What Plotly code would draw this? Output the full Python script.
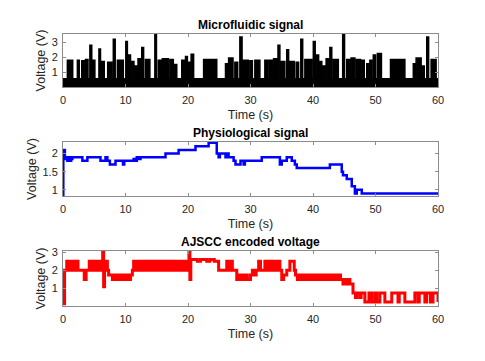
import plotly.graph_objects as go

# microfluidic signal: baseline level plus pulses (start s, end s, peak V)
mf_base = 0.55
mf_start = [0.7, 2.3, 3.0, 3.6, 4.3, 4.7, 5.75, 6.05, 7.15, 7.6, 8.05, 8.7, 10.05, 10.45, 10.9,
            11.55, 12.0, 12.6, 13.2, 14.7, 15.25, 15.9, 17.1, 17.8, 19.0, 19.6, 20.05, 20.5,
            22.5, 23.2, 26.0, 26.5, 27.5, 28.3, 28.85, 29.9,
            30.7, 32.3, 32.95, 33.7, 34.4, 34.9, 35.8, 36.2, 37.3, 38.05, 38.7, 40.05, 40.5,
            41.0, 41.6, 42.1, 42.7, 43.25, 44.75, 45.4, 46.1, 46.95, 47.7, 48.6, 49.1, 49.65,
            50.3, 52.4, 53.55, 56.05, 56.5, 57.5, 58.2, 58.9]
mf_end = [1.55, 2.6, 3.5, 4.0, 4.6, 5.1, 6.0, 6.6, 7.45, 7.8, 8.35, 9.65, 10.3, 10.8, 11.35,
          11.9, 12.4, 12.9, 13.9, 14.95, 15.7, 16.85, 17.65, 18.2, 19.4, 19.9, 20.35, 20.9,
          23.0, 24.6, 26.4, 27.2, 27.95, 28.65, 29.65, 30.3,
          31.5, 32.7, 33.6, 34.3, 34.7, 35.5, 36.1, 37.0, 37.7, 38.35, 39.8, 40.35, 40.9,
          41.4, 41.95, 42.5, 43.0, 44.05, 45.05, 45.9, 46.7, 47.6, 48.2, 48.95, 49.4, 50.0,
          50.95, 53.4, 54.7, 56.4, 57.3, 57.8, 58.5, 59.7]
mf_peak = [1.8, 1.8, 1.75, 1.85, 2.8, 1.8, 2.55, 1.7, 1.65, 1.65, 3.2, 1.8, 3.05, 2.15, 1.7,
           1.4, 1.9, 2.65, 1.85, 3.55, 1.8, 1.9, 1.85, 1.5, 1.8, 2.05, 1.65, 2.2,
           1.85, 1.85, 1.55, 1.95, 1.65, 3.35, 1.8, 1.75,
           1.8, 1.8, 1.8, 1.9, 2.8, 1.7, 2.5, 1.7, 1.65, 3.2, 1.85, 3.05, 2.15,
           1.7, 1.4, 1.9, 2.65, 1.85, 3.55, 1.85, 1.95, 1.85, 1.8, 1.55, 1.8, 2.15,
           2.25, 1.85, 1.85, 1.55, 1.95, 1.4, 3.35, 1.85]

# physiological signal (step changes)
phys_t = [0, 0.05, 0.3, 0.5, 0.7, 0.9, 1.1, 1.3, 1.5, 3.1, 3.9, 6.0, 6.8, 7.1, 7.5, 8.4, 9.6,
          9.8, 11.3, 11.6, 11.8, 12.1, 12.4, 16.4, 18.5, 21.2, 23.3, 24.6, 24.9, 25.1, 26.0,
          26.3, 26.5, 27.3, 27.6, 28.4, 28.9, 29.1, 31.8, 34.7, 35.0, 35.8, 36.6, 37.1, 37.4,
          42.7, 44.6, 44.8, 45.4, 46.2, 46.7, 47.0, 47.8, 60]
phys_v = [0.85, 2.1, 1.85, 1.9, 1.8, 1.9, 1.8, 1.85, 1.9, 1.8, 1.9, 1.8, 1.9, 1.8, 1.7, 1.8, 1.7,
          1.8, 1.85, 1.8, 1.9, 1.85, 1.9, 2.0, 2.1, 2.2, 2.3, 2.0, 1.9, 2.0, 1.9,
          2.0, 1.9, 1.8, 1.7, 1.8, 1.7, 1.8, 1.9, 1.7, 1.8, 1.9, 1.8, 1.7, 1.6,
          1.7, 1.5, 1.4, 1.3, 1.1, 0.9, 1.0, 0.9, 0.9]

# AJSCC encoded voltage (step changes)
ajscc_t = [0.0, 0.05, 0.25, 0.6, 1.0, 1.3, 1.6, 2.0, 2.4, 3.4, 3.7, 4.2, 4.5, 4.7, 5.0, 5.2, 5.5,
           5.8, 6.1, 6.35, 6.5, 6.65, 6.9, 7.1, 7.3, 7.9, 8.2, 8.4, 8.7, 8.9, 9.2, 9.4, 9.7,
           9.9, 10.2, 10.4, 10.8, 11.1, 11.3, 11.7, 12.0, 12.3, 12.6, 12.9, 13.2, 13.6, 14.0,
           14.3, 14.7, 15.0, 15.4, 15.8, 16.2, 16.6, 17.0, 17.3, 17.7, 18.0, 18.4, 18.7, 19.1,
           19.4, 19.8, 20.0, 20.15, 20.3, 20.45, 21.5, 22.0, 23.0, 23.5, 24.2, 24.9, 26.2,
           26.5, 26.8, 27.1, 27.8, 28.1, 28.3, 28.7, 28.9, 29.3, 29.5, 30.0, 30.3, 30.6, 30.9,
           31.3, 31.6, 32.3, 32.6, 32.9, 33.3, 33.6, 34.0, 34.4, 34.7, 35.0, 35.3, 35.8, 36.3,
           37.0, 37.2, 37.5, 37.8, 38.1, 38.5, 38.8, 39.2, 39.5, 39.9, 40.2, 40.6, 40.9, 41.3,
           41.6, 42.0, 42.3, 42.7, 43.0, 43.4, 43.7, 44.1, 44.4, 44.8, 45.1, 45.4, 45.7, 45.9,
           46.4, 46.8, 47.0, 47.5, 47.7, 48.3, 48.95, 49.4, 49.9, 50.2, 50.7, 51.5, 52.6, 53.6,
           53.8, 54.7, 56.3, 56.8, 57.0, 57.9, 58.2, 58.8, 59.2, 60.0]
ajscc_v = [1.75, 0.15, 2.0, 2.5, 2.0, 2.5, 2.0, 2.5, 2.0, 1.5, 2.0, 2.5, 2.0, 2.5, 2.0, 2.5, 2.0,
           2.5, 2.0, 3.1, 1.1, 2.0, 2.5, 2.0, 1.75, 1.5, 1.75, 1.5, 1.75, 1.5, 1.75, 1.5, 1.75,
           1.5, 1.75, 1.5, 1.75, 2.0, 2.5, 2.0, 2.5, 2.0, 2.5, 2.0, 2.5, 2.0, 2.5,
           2.0, 2.5, 2.0, 2.5, 2.0, 2.5, 2.0, 2.5, 2.0, 2.5, 2.0, 2.5, 2.0, 2.5,
           2.0, 2.5, 2.0, 3.0, 1.5, 2.6, 2.5, 2.6, 2.5, 2.6, 2.5, 2.0, 2.5,
           2.0, 2.5, 2.0, 1.5, 1.75, 1.5, 1.75, 1.5, 1.75, 1.5, 1.75, 2.0, 1.75, 2.0,
           2.5, 2.0, 2.5, 2.0, 2.5, 2.0, 2.5, 2.0, 2.5, 2.0, 1.5, 1.75, 2.0, 2.5,
           2.0, 1.75, 1.5, 1.75, 1.5, 1.75, 1.5, 1.75, 1.5, 1.75, 1.5, 1.75, 1.5, 1.75,
           1.5, 1.75, 1.5, 1.75, 1.5, 1.75, 1.5, 1.75, 1.5, 1.25, 1.5, 1.25, 1.5, 1.25,
           0.75, 0.5, 0.75, 0.5, 0.75, 0.25, 0.75, 0.25, 0.75, 0.25, 0.75, 0.25, 0.75, 0.25,
           0.75, 0.25, 0.75, 0.25, 0.75, 0.25, 0.75, 0.25, 0.75, 0.25]

x_ticks = [0, 10, 20, 30, 40, 50, 60]
titles = ["Microfluidic signal", "Physiological signal", "AJSCC encoded voltage"]

# build the pulse train as a step line
mf_t = [0]
mf_v = [mf_base]
for s, e, h in zip(mf_start, mf_end, mf_peak):
    mf_t += [s, e]
    mf_v += [h, mf_base]
mf_t.append(60)
mf_v.append(mf_base)

W, H = 485, 361
OFF = 8  # page body margin shifts the plot by 8px
FONT = "Liberation Sans, Arial, sans-serif"
TXT = "#262626"

fig = go.Figure()
fig.add_trace(go.Scatter(x=mf_t, y=mf_v, mode="lines", line=dict(color="black", width=1.5, shape="hv"),
                         fill="tozeroy", fillcolor="black", xaxis="x", yaxis="y"))
fig.add_trace(go.Scatter(x=phys_t, y=phys_v, mode="lines", line=dict(color="#0000ff", width=2.5, shape="hv"),
                         xaxis="x2", yaxis="y2"))
fig.add_trace(go.Scatter(x=ajscc_t, y=ajscc_v, mode="lines", line=dict(color="#ff0000", width=3, shape="hv"),
                         xaxis="x3", yaxis="y3"))

# panel positions in screen pixels (top, bottom)
panels = [(34, 87), (142, 196), (251, 306)]
y_ranges = [[0, 3.55], [0.83, 2.32], [0.03, 3.07]]
y_ticks = [[1, 2, 3], [1, 1.5, 2], [1, 2, 3]]
x_dom = [(63 - OFF) / W, (438 - OFF) / W]

axis_common = dict(showgrid=False, zeroline=False, showline=True, linecolor="#8c8c8c", linewidth=1,
                   mirror="allticks", ticks="inside", ticklen=3, tickcolor="#8c8c8c", automargin=False,
                   tickfont=dict(family=FONT, size=11, color=TXT))
layout = {}
for i, ((top, bot), yr, yt) in enumerate(zip(panels, y_ranges, y_ticks)):
    sfx = "" if i == 0 else str(i + 1)
    layout["xaxis" + sfx] = dict(axis_common, domain=x_dom, range=[0, 60], tickvals=x_ticks,
                                 anchor="y" + sfx, ticklabelstandoff=3,
                                 title=dict(text="Time (s)", font=dict(family=FONT, size=12.5, color=TXT), standoff=5))
    layout["yaxis" + sfx] = dict(axis_common, domain=[1 - (bot - OFF) / H, 1 - (top - OFF) / H], range=yr,
                                 tickvals=yt, anchor="x" + sfx, ticklabelstandoff=2,
                                 title=dict(text="Voltage (V)", font=dict(family=FONT, size=12.5, color=TXT), standoff=3))

annotations = []
for (top, bot), t in zip(panels, titles):
    annotations.append(dict(text="<b>%s</b>" % t, x=0.5 * (x_dom[0] + x_dom[1]), y=1 - (top - 9 - OFF) / H,
                            xref="paper", yref="paper", showarrow=False, xanchor="center", yanchor="middle",
                            font=dict(family=FONT, size=12, color="black")))

fig.update_layout(**layout)
fig.update_layout(width=W, height=H, margin=dict(l=0, r=0, t=0, b=0), showlegend=False,
                  plot_bgcolor="white", paper_bgcolor="white", annotations=annotations)
fig.write_html("out.html")
